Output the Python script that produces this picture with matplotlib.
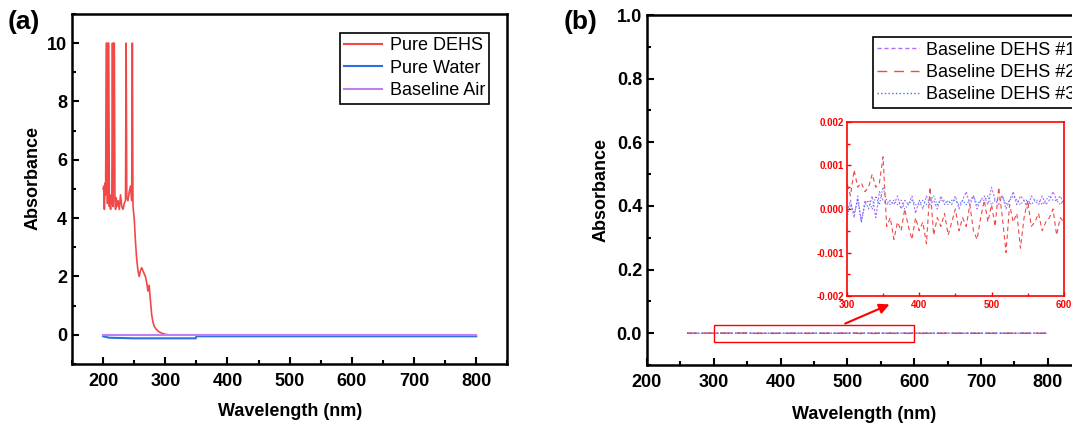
import numpy as np
import matplotlib
matplotlib.use('Agg')
import matplotlib.pyplot as plt
from matplotlib.ticker import MultipleLocator, FormatStrFormatter
from matplotlib.patches import Rectangle

plt.rcParams['font.family'] = ['Liberation Sans', 'DejaVu Sans']
plt.rcParams['xtick.direction'] = 'in'
plt.rcParams['ytick.direction'] = 'in'

# ---- panel (a) data ----
wl_dehs = [200, 201, 202, 203, 204, 205, 206, 207, 208, 209, 210, 211, 212, 213, 214,
           215, 216, 217, 218, 219, 220, 221, 222, 224, 226, 228, 230, 232, 234, 236,
           237, 238, 240, 242, 244, 246, 247, 248, 250, 252, 254, 256, 258, 260, 262,
           264, 266, 268, 270, 272, 274, 276, 278, 280, 282, 285, 290, 295, 300, 305,
           310, 350, 400, 500, 600, 700, 800]
abs_dehs = [5.0, 5.1, 4.3, 5.2, 4.8, 10, 10, 4.5, 10, 10, 4.4, 4.6, 4.3, 4.8, 4.5,
            10, 4.4, 10, 10, 4.6, 4.3, 4.7, 4.4, 4.6, 4.3, 4.8, 4.4, 4.3, 4.5, 4.6,
            10, 4.7, 4.6, 4.9, 5.1, 4.6, 10, 4.4, 4.0, 3.2, 2.6, 2.2, 2.0, 2.2, 2.3,
            2.2, 2.1, 2.0, 1.8, 1.5, 1.7, 1.2, 0.7, 0.45, 0.3, 0.2, 0.1, 0.05, 0.02, 0.0,
            0.0, 0.0, 0.0, 0.0, 0.0, 0.0, 0.0]
wl_water = [200, 210, 250, 300, 349, 350, 400, 500, 600, 700, 800]
abs_water = [-0.05, -0.1, -0.12, -0.12, -0.12, -0.05, -0.05, -0.05, -0.05, -0.05, -0.05]
wl_air = [200, 300, 400, 500, 600, 700, 800]
abs_air = [0.0, 0.0, 0.0, 0.0, 0.0, 0.0, 0.0]

# ---- panel (b) data, absorbance in units of 1e-4 ----
wl_base = np.arange(260, 801, 5)
base1 = [1, 0, 2, 1, 0, 1, 2, 1, -1, 2,      # 260-305
         -2, 3, -3, 2, 0, 3, -2, 4, 2, 1,    # 310-355
         2, 1, 3, 0, 2, 1, 3, -1, 2, 0,      # 360-405
         3, 1, 2, 0, 3, 1, 2, 1, 3, 0,       # 410-455
         2, 4, 1, 3, 0, 2, 3, 1, 5, 2,       # 460-505
         1, 3, 0, 2, 4, 1, 3, 2, 0, 3,       # 510-555
         2, 1, 3, 1, 2, 4, 2, 3, 1, 2,       # 560-605
         3, 1, 2, 2, 3, 1, 2, 3, 1, 2,       # 610-655
         2, 3, 1, 2, 3, 2, 1, 3, 2, 2,       # 660-705
         3, 1, 2, 2, 3, 1, 2, 3, 2, 1,       # 710-755
         2, 3, 1, 2, 3, 2, 2, 1, 2]          # 760-800
base2 = [2, 3, 1, 4, 2, 3, 5, 4, 6, 3,
         9, 5, 6, 4, 5, 8, 5, 6, 12, -4,
         -2, -7, -3, -5, 0, -4, -7, -2, -5, -3,
         -8, 5, -6, -2, -4, -1, -6, -3, 0, -5,
         -2, -4, 1, -5, -7, -2, 2, -3, 1, -4,
         5, -2, -10, 1, -3, -1, -9, -2, 2, -4,
         -3, -1, -5, -3, -2, 0, -6, -2, -3, -1,
         -4, -2, -5, -1, -3, -2, -4, 0, -3, -2,
         -5, -1, -3, -2, -4, -1, -3, -2, -4, -1,
         -3, -2, -5, -1, -3, -2, -4, 0, -3, -2,
         -4, -1, -3, -2, -4, -1, -3, -2, -3]
base3 = [0, 1, 0, 1, 1, 0, 1, 0, -2, 1,
         -1, 2, -3, 1, 2, 0, 3, 1, 5, 2,
         1, 2, 1, 2, 0, 1, 2, 1, 1, 2,
         1, 2, 3, 1, 2, 2, 1, 2, 2, 1,
         2, 1, 2, 3, 1, 2, 2, 3, 1, 2,
         2, 3, 1, 2, 3, 2, 1, 2, 2, 1,
         2, 2, 1, 2, 3, 2, 2, 1, 2, 2,
         1, 2, 2, 3, 1, 2, 2, 1, 2, 2,
         2, 1, 2, 2, 3, 1, 2, 2, 1, 2,
         2, 2, 1, 2, 2, 3, 1, 2, 2, 1,
         2, 2, 1, 2, 2, 1, 2, 2, 2]
base1 = np.array(base1)*1e-4
base2 = np.array(base2)*1e-4
base3 = np.array(base3)*1e-4

c_red = '#f24848'
c_blue = '#2f6fe0'
c_purp = '#c07ff2'
c_purp2 = '#b070f5'
c_blue2 = '#3f6ff0'

def style_axes(ax, fs=13, lw=1.8):
    for s in ax.spines.values():
        s.set_linewidth(lw)
    ax.tick_params(which='major', length=5, width=1.5, labelsize=fs)
    ax.tick_params(axis='x', which='major', pad=6.5)
    ax.tick_params(which='minor', length=3, width=1.5)
    for t in ax.get_xticklabels() + ax.get_yticklabels():
        t.set_fontweight('bold')

fig = plt.figure(figsize=(10.72, 4.23), dpi=100)

# ---------- (a) ----------
ax1 = fig.add_axes([0.0672, 0.1395, 0.406, 0.8275])
ax1.plot(wl_dehs, abs_dehs, '-', color=c_red, lw=1.2, label='Pure DEHS')
ax1.plot(wl_water, abs_water, '-', color=c_blue, lw=1.5, label='Pure Water')
ax1.plot(wl_air, abs_air, '-', color=c_purp, lw=1.5, label='Baseline Air')
ax1.set_xlim(150, 850)
ax1.set_ylim(-1, 11)
ax1.xaxis.set_major_locator(MultipleLocator(100))
ax1.xaxis.set_minor_locator(MultipleLocator(50))
ax1.yaxis.set_major_locator(MultipleLocator(2))
ax1.yaxis.set_minor_locator(MultipleLocator(1))
style_axes(ax1)
ax1.set_xlabel('Wavelength (nm)', fontsize=13, fontweight='bold', labelpad=9)
ax1.set_ylabel('Absorbance', fontsize=13, fontweight='bold')
ax1.yaxis.set_label_coords(-0.069, 0.53)
leg1 = ax1.legend(loc='upper right', bbox_to_anchor=(0.959, 0.946), fontsize=13,
                  frameon=True, fancybox=False, edgecolor='black', framealpha=1,
                  handlelength=2.1, handletextpad=0.4, labelspacing=0.3,
                  borderpad=0.25, borderaxespad=0)
leg1.get_frame().set_linewidth(1.2)
for h in leg1.get_lines():
    h.set_linewidth(1.5)
fig.text(0.007, 0.948, '(a)', fontsize=19, fontweight='bold', va='center')

# ---------- (b) ----------
ax2 = fig.add_axes([0.6035, 0.137, 0.405, 0.8275])
ax2.plot(wl_base, base1, color=c_purp2, lw=1.0, dashes=(3, 2), label='Baseline DEHS #1')
ax2.plot(wl_base, base2, color=c_red, lw=1.0, dashes=(7, 5), label='Baseline DEHS #2')
ax2.plot(wl_base, base3, color=c_blue2, lw=1.0, linestyle=':', label='Baseline DEHS #3')
ax2.set_xlim(200, 850)
ax2.set_ylim(-0.1, 1.0)
ax2.xaxis.set_major_locator(MultipleLocator(100))
ax2.xaxis.set_minor_locator(MultipleLocator(50))
ax2.yaxis.set_major_locator(MultipleLocator(0.2))
ax2.yaxis.set_minor_locator(MultipleLocator(0.1))
ax2.yaxis.set_major_formatter(FormatStrFormatter('%.1f'))
style_axes(ax2)
ax2.set_xlabel('Wavelength (nm)', fontsize=13, fontweight='bold', labelpad=11)
ax2.set_ylabel('Absorbance', fontsize=13, fontweight='bold')
ax2.yaxis.set_label_coords(-0.087, 0.5)
leg2 = ax2.legend(loc='upper left', bbox_to_anchor=(0.52, 0.937), fontsize=13,
                  frameon=True, fancybox=False, edgecolor='black', framealpha=1,
                  handlelength=2.3, handletextpad=0.4, labelspacing=0.3,
                  borderpad=0.25, borderaxespad=0)
leg2.get_frame().set_linewidth(1.2)
ax2.add_patch(Rectangle((300, -0.028), 300, 0.053, fill=False, edgecolor='red', lw=1.0))
ax2.annotate('', xy=(567, 0.094), xytext=(493, 0.027),
             arrowprops=dict(arrowstyle='-|>', color='red', lw=1.5, mutation_scale=15))
fig.text(0.526, 0.948, '(b)', fontsize=19, fontweight='bold', va='center')

# ---------- inset ----------
axi = fig.add_axes([0.790, 0.3002, 0.2024, 0.4114])
axi.plot(wl_base, base1, color=c_purp2, lw=0.8, dashes=(2, 1.5))
axi.plot(wl_base, base2, color=c_red, lw=0.8, dashes=(4, 3))
axi.plot(wl_base, base3, color=c_blue2, lw=0.8, linestyle=':')
axi.set_xlim(300, 600)
axi.set_ylim(-0.002, 0.002)
axi.xaxis.set_major_locator(MultipleLocator(100))
axi.xaxis.set_minor_locator(MultipleLocator(50))
axi.yaxis.set_major_locator(MultipleLocator(0.001))
axi.yaxis.set_minor_locator(MultipleLocator(0.0005))
axi.yaxis.set_major_formatter(FormatStrFormatter('%.3f'))
for s in axi.spines.values():
    s.set_color('red')
    s.set_linewidth(1.2)
axi.tick_params(which='both', colors='red', labelsize=7, width=1.0, pad=2)
axi.tick_params(axis='x', which='major', pad=3)
axi.tick_params(which='major', length=3)
axi.tick_params(which='minor', length=2)
for t in axi.get_xticklabels() + axi.get_yticklabels():
    t.set_fontweight('bold')

fig.savefig('out.png', dpi=100)
